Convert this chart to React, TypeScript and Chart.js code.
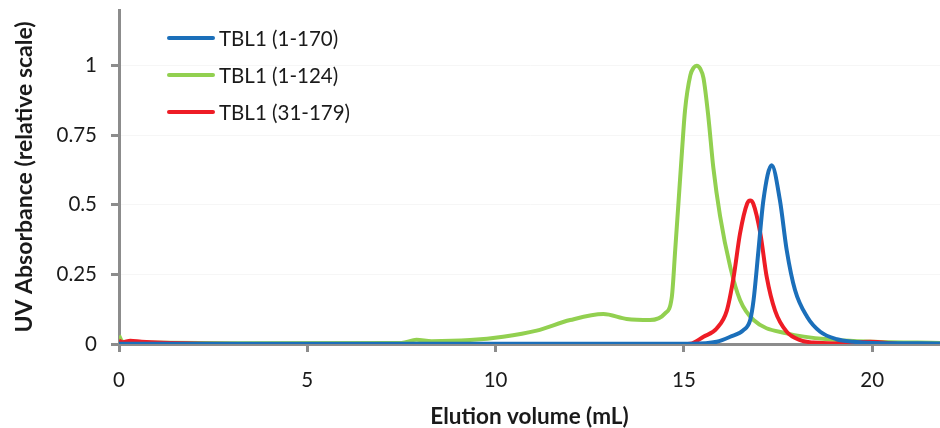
import React, { useEffect, useRef } from "react";
import { Chart, registerables } from "chart.js";

Chart.register(...registerables);

const seriesNames = ["TBL1 (1-170)", "TBL1 (1-124)", "TBL1 (31-179)"];
const seriesColors = ["#1b6fba", "#92d050", "#ee1c25"];

const volumeBlue = [0, 2, 5, 10, 14, 15.2, 15.87, 16.23, 16.58, 16.76, 16.85, 16.98, 17.11, 17.33, 17.55, 17.73, 17.95, 18.27, 18.62, 19.06, 19.5, 20, 21.8];
const absBlue = [0.001, 0.001, 0.001, 0.001, 0.001, 0.001, 0.008, 0.026, 0.05, 0.086, 0.158, 0.337, 0.516, 0.642, 0.516, 0.337, 0.194, 0.098, 0.044, 0.017, 0.008, 0.004, 0.002];

const volumeGreen = [0, 0.1, 0.5, 3, 7.5, 7.9, 8.3, 9.32, 10.2, 11.09, 11.98, 12.86, 13.48, 14.1, 14.5, 14.68, 14.77, 14.86, 14.95, 15.03, 15.17, 15.26, 15.34, 15.43, 15.52, 15.65, 15.78, 15.96, 16.23, 16.49, 16.85, 17.73, 19.06, 20, 21.8];
const absGreen = [0.03, 0.008, 0.005, 0.003, 0.004, 0.015, 0.01, 0.014, 0.026, 0.048, 0.086, 0.1075, 0.09, 0.086, 0.11, 0.17, 0.34, 0.516, 0.695, 0.84, 0.965, 0.993, 1.0, 0.99, 0.955, 0.815, 0.635, 0.46, 0.277, 0.158, 0.086, 0.038, 0.014, 0.008, 0.004];

const volumeRed = [0, 0.1, 0.3, 0.6, 2, 5, 10, 15, 15.17, 15.52, 15.87, 16.14, 16.32, 16.49, 16.68, 16.76, 16.84, 17.03, 17.2, 17.42, 17.73, 18.09, 18.44, 19, 19.95, 20.65];
const absRed = [0.012, 0.006, 0.012, 0.008, 0.002, 0, 0, 0, 0.001, 0.026, 0.056, 0.12, 0.24, 0.397, 0.505, 0.516, 0.505, 0.397, 0.24, 0.12, 0.044, 0.014, 0.005, 0.002, 0.008, 0.001];

const yTicks = [0, 0.25, 0.5, 0.75, 1];
const xTicks = [0, 5, 10, 15, 20];

const xTitle = "Elution volume (mL)";
const yTitle = "UV Absorbance (relative scale)";

const FONT = "Lato, 'Open Sans', sans-serif";

function pts(xs: number[], ys: number[]) {
  return xs.map((x, i) => ({ x, y: ys[i] }));
}

const legendPlugin = {
  id: "customLegend",
  afterDraw(chart: any) {
    const ctx = chart.ctx;
    ctx.save();
    const rows = [38, 75, 112];
    seriesNames.forEach((name, i) => {
      ctx.strokeStyle = seriesColors[i];
      ctx.lineWidth = 4;
      ctx.lineCap = "round";
      ctx.beginPath();
      ctx.moveTo(169, rows[i]);
      ctx.lineTo(213, rows[i]);
      ctx.stroke();
      ctx.fillStyle = "#1a1a1a";
      ctx.font = `20.5px ${FONT}`;
      ctx.textBaseline = "middle";
      ctx.textAlign = "left";
      ctx.fillText(name, 219, rows[i] + 1);
    });
    ctx.restore();
  },
};

export default function App() {
  const ref = useRef<HTMLCanvasElement | null>(null);

  useEffect(() => {
    document.body.style.margin = "0";
    if (!ref.current) return;
    const datasets = [
      { label: seriesNames[0], data: pts(volumeBlue, absBlue), color: seriesColors[0], order: 0 },
      { label: seriesNames[1], data: pts(volumeGreen, absGreen), color: seriesColors[1], order: 2 },
      { label: seriesNames[2], data: pts(volumeRed, absRed), color: seriesColors[2], order: 1 },
    ].map((d) => ({
      label: d.label,
      data: d.data,
      borderColor: d.color,
      backgroundColor: d.color,
      borderWidth: 4,
      pointRadius: 0,
      fill: false,
      cubicInterpolationMode: "monotone" as const,
      order: d.order,
    }));

    const chart = new Chart(ref.current, {
      type: "line",
      data: { datasets },
      options: {
        animation: false,
        responsive: false,
        layout: { padding: { top: 10, right: 0, left: 0, bottom: 0 } },
        plugins: { legend: { display: false }, tooltip: { enabled: false } },
        scales: {
          x: {
            type: "linear",
            min: 0,
            max: 21.8,
            afterBuildTicks: (s: any) => {
              s.ticks = xTicks.map((v) => ({ value: v }));
            },
            afterFit: (s: any) => {
              s.height = 84;
              s.paddingLeft = 0;
              s.paddingRight = 0;
            },
            ticks: {
              font: { family: FONT, size: 20.5 },
              color: "#1a1a1a",
              padding: 16,
              maxRotation: 0,
              callback: (v: any) => String(v),
            },
            grid: {
              drawOnChartArea: false,
              tickLength: 8,
              tickColor: "#8c8c8c",
              tickWidth: 3,
            },
            border: { color: "#8c8c8c", width: 3 },
            title: {
              display: true,
              text: xTitle,
              font: { family: FONT, size: 22.5, weight: "bold", lineHeight: 1 },
              color: "#1a1a1a",
              padding: { top: 0, bottom: 0 },
            },
          },
          y: {
            type: "linear",
            min: 0,
            max: 1.2,
            afterBuildTicks: (s: any) => {
              s.ticks = yTicks.map((v) => ({ value: v }));
            },
            afterFit: (s: any) => {
              s.width = 119;
              s.paddingTop = 0;
              s.paddingBottom = 0;
            },
            ticks: {
              font: { family: FONT, size: 20.5 },
              color: "#1a1a1a",
              padding: 14,
              callback: (v: any) => String(v),
            },
            grid: {
              color: "rgba(0,0,0,0.035)",
              lineWidth: 1,
              tickLength: 8,
              tickColor: "#8c8c8c",
              tickWidth: 3,
            },
            border: { color: "#8c8c8c", width: 3 },
            title: {
              display: true,
              text: yTitle,
              font: { family: FONT, size: 23, weight: "bold", lineHeight: 1 },
              color: "#1a1a1a",
              padding: { top: 13, bottom: 4 },
            },
          },
        },
      },
      plugins: [legendPlugin],
    });
    return () => chart.destroy();
  }, []);

  return (
    <div style={{ width: 940, height: 428 }}>
      <canvas ref={ref} width={940} height={428} style={{ display: "block", width: 940, height: 428 }} />
    </div>
  );
}
